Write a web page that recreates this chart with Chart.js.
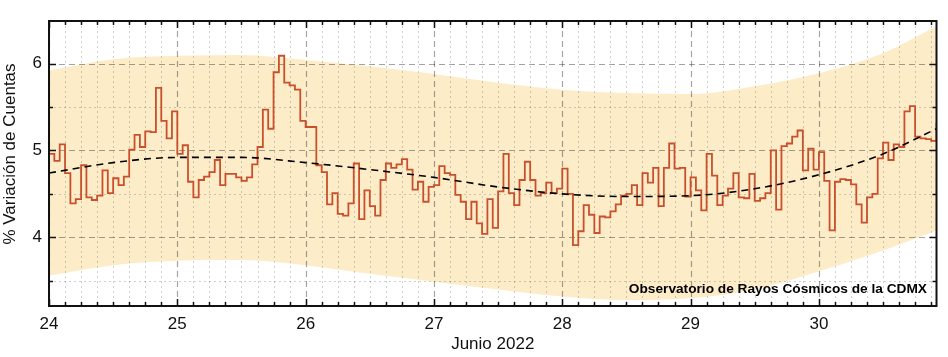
<!DOCTYPE html>
<html>
<head>
<meta charset="utf-8">
<script src="https://cdn.jsdelivr.net/npm/chart.js@4.4.0/dist/chart.umd.min.js"></script>
<style>
html,body{margin:0;padding:0;background:#fff;}
#wrap{width:948px;height:357px;position:relative;}
</style>
</head>
<body>
<div id="wrap"><canvas id="c" width="948" height="357"></canvas></div>
<script>
// ---- data (hourly % variation, starting 24 June 2022 00h) ----
const startDay = 24;
const hourlyValues = [
  4.96,4.88,5.07,4.74,4.39,4.44,4.83,4.46,4.43,4.48,4.77,4.51,4.68,4.60,4.70,5.01,5.18,5.04,5.22,5.21,5.72,5.34,5.14,5.45,
  4.96,5.06,4.64,4.46,4.66,4.70,4.75,4.89,4.60,4.73,4.73,4.69,4.65,4.69,4.84,5.04,5.47,5.25,5.90,6.09,5.78,5.75,5.70,5.34,
  5.27,5.27,4.83,4.75,4.38,4.51,4.27,4.25,4.39,4.85,4.21,4.54,4.36,4.25,4.66,4.85,4.80,4.84,4.90,4.78,4.55,4.64,4.41,4.58,
  4.60,4.82,4.74,4.72,4.49,4.41,4.21,4.41,4.16,4.04,4.44,4.11,4.53,4.96,4.51,4.37,4.66,4.87,4.66,4.48,4.51,4.63,4.51,4.56,
  4.79,4.50,3.91,4.07,4.37,4.26,4.05,4.24,4.23,4.30,4.38,4.48,4.50,4.60,4.37,4.74,4.63,4.80,4.36,4.80,5.08,4.79,4.80,4.47,
  4.69,4.54,4.31,4.96,4.71,4.37,4.48,4.56,4.74,4.46,4.45,4.73,4.42,4.45,4.51,5.00,4.32,5.05,5.08,5.16,5.23,4.77,5.02,4.78,
  4.98,4.65,4.08,4.64,4.67,4.66,4.61,4.38,4.17,4.46,4.50,4.91,5.09,4.89,5.07,5.04,5.45,5.51,5.16,5.14,5.13,5.11,5.32
];
const fitDays   = [24, 24.5, 25, 25.5, 26, 26.5, 27, 27.5, 28, 28.5, 29, 29.5, 30, 30.5, 30.9167];
const fitValues = [4.74, 4.86, 4.92, 4.92, 4.86, 4.78, 4.69, 4.58, 4.50, 4.47, 4.48, 4.56, 4.72, 4.96, 5.25];
const bandUpper = [5.92, 6.05, 6.09, 6.10, 6.04, 5.97, 5.88, 5.78, 5.70, 5.66, 5.65, 5.74, 5.89, 6.12, 6.43];
const bandLower = [3.56, 3.68, 3.73, 3.74, 3.68, 3.58, 3.49, 3.40, 3.32, 3.28, 3.30, 3.40, 3.61, 3.85, 4.08];
const xTickValues = [24, 25, 26, 27, 28, 29, 30];
const yTickValues = [4, 5, 6];
const yMinorValues = [3.5, 4.5, 5.5];
const xMin = 24, xMax = 24 + 166 / 24;
const yMin = 3.21, yMax = 6.49;
const yTitle = '% Variación de Cuentas';
const xTitle = 'Junio 2022';
const note = 'Observatorio de Rayos Cósmicos de la CDMX';

// ---- build library data ----
const stepPoints = hourlyValues.map((v, i) => ({x: startDay + i / 24, y: v}));
const fitPoints = fitDays.map((d, i) => ({x: d, y: fitValues[i]}));
const upPoints = fitDays.map((d, i) => ({x: d, y: bandUpper[i]}));
const loPoints = fitDays.map((d, i) => ({x: d, y: bandLower[i]}));
const minorX = [];
for (let k = 0; startDay + k * 0.125 <= xMax + 1e-9; k++) minorX.push(startDay + k * 0.125);

const FONT = "'Liberation Sans', Arial, Helvetica, sans-serif";
const TEXT = '#111';

const framePlugin = {
  id: 'frame',
  afterUpdate(chart) {
    // make sure every smooth line has its control points before the band is filled
    chart.getSortedVisibleDatasetMetas().forEach(meta => {
      if (meta.dataset && meta.dataset.updateControlPoints) {
        meta.dataset.updateControlPoints(chart.chartArea, meta.indexAxis || 'x');
      }
    });
  },
  beforeDatasetsDraw(chart) {
    const {ctx, chartArea: a, scales: {x, y}} = chart;
    ctx.save();
    ctx.beginPath();
    ctx.rect(a.left, a.top, a.right - a.left, a.bottom - a.top);
    ctx.clip();
    const vline = (px, dash, col, w) => {
      ctx.setLineDash(dash); ctx.strokeStyle = col; ctx.lineWidth = w;
      ctx.beginPath(); ctx.moveTo(px, a.top); ctx.lineTo(px, a.bottom); ctx.stroke();
    };
    const hline = (py, dash, col, w) => {
      ctx.setLineDash(dash); ctx.strokeStyle = col; ctx.lineWidth = w;
      ctx.beginPath(); ctx.moveTo(a.left, py); ctx.lineTo(a.right, py); ctx.stroke();
    };
    const minorCol = 'rgba(0,0,0,0.18)';
    const majorCol = 'rgba(0,0,0,0.36)';
    minorX.forEach(v => {
      if (Math.abs(v - Math.round(v)) < 1e-6) return;
      vline(Math.round(x.getPixelForValue(v)) + 0.5, [2, 3], minorCol, 1);
    });
    yMinorValues.forEach(v => hline(Math.round(y.getPixelForValue(v)) + 0.5, [2, 3], minorCol, 1));
    xTickValues.forEach(v => vline(Math.round(x.getPixelForValue(v)) + 0.5, [6, 4], majorCol, 1.2));
    yTickValues.forEach(v => hline(Math.round(y.getPixelForValue(v)) + 0.5, [6, 4], majorCol, 1.2));
    ctx.restore();
  },
  afterDraw(chart) {
    const {ctx, chartArea: a, scales: {x, y}} = chart;
    ctx.save();
    ctx.setLineDash([]);
    ctx.strokeStyle = '#111';
    // tick marks, inward on all four sides
    ctx.lineWidth = 1.5;
    const seg = (x1, y1, x2, y2) => { ctx.beginPath(); ctx.moveTo(x1, y1); ctx.lineTo(x2, y2); ctx.stroke(); };
    minorX.forEach(v => {
      const px = Math.round(x.getPixelForValue(v)) + 0.5;
      const major = Math.abs(v - Math.round(v)) < 1e-6;
      const L = major ? 7 : 4;
      seg(px, a.bottom, px, a.bottom - L);
      seg(px, a.top, px, a.top + L);
    });
    yTickValues.concat(yMinorValues).forEach(v => {
      const py = Math.round(y.getPixelForValue(v)) + 0.5;
      const L = yTickValues.includes(v) ? 7 : 4;
      seg(a.left, py, a.left + L, py);
      seg(a.right, py, a.right - L, py);
    });
    // frame
    ctx.lineWidth = 2;
    ctx.strokeRect(a.left, a.top, a.right - a.left, a.bottom - a.top);
    // y title
    ctx.fillStyle = TEXT;
    ctx.font = '17px ' + FONT;
    ctx.textAlign = 'center';
    ctx.textBaseline = 'alphabetic';
    ctx.translate(14.5, 154);
    ctx.rotate(-Math.PI / 2);
    ctx.fillText(yTitle, 0, 0);
    ctx.restore();
    // annotation
    ctx.save();
    ctx.fillStyle = '#000';
    ctx.font = 'bold 13.7px ' + FONT;
    ctx.textAlign = 'right';
    ctx.textBaseline = 'alphabetic';
    ctx.fillText(note, 927, 293);
    ctx.restore();
  }
};

new Chart(document.getElementById('c'), {
  type: 'line',
  data: {
    datasets: [
      {
        label: 'banda sup',
        data: upPoints,
        borderColor: 'rgba(0,0,0,0)',
        borderWidth: 1,
        backgroundColor: '#FDECC8',
        fill: '+1',
        pointRadius: 0,
        cubicInterpolationMode: 'monotone',
        order: 4
      },
      {
        label: 'banda inf',
        data: loPoints,
        borderColor: 'rgba(0,0,0,0)',
        borderWidth: 1,
        fill: false,
        pointRadius: 0,
        cubicInterpolationMode: 'monotone',
        order: 3
      },
      {
        label: '% Variación',
        data: stepPoints,
        borderColor: '#C8502C',
        borderWidth: 1.8,
        stepped: true,
        fill: false,
        pointRadius: 0,
        order: 2
      },
      {
        label: 'ajuste',
        data: fitPoints,
        borderColor: '#000',
        borderWidth: 1.6,
        borderDash: [7, 5],
        fill: false,
        pointRadius: 0,
        cubicInterpolationMode: 'monotone',
        order: 1
      }
    ]
  },
  options: {
    responsive: false,
    devicePixelRatio: 1,
    animation: false,
    layout: {padding: {left: 0, right: 11.5, top: 21, bottom: 0}},
    plugins: {
      legend: {display: false},
      tooltip: {enabled: false},
      filler: {drawTime: 'beforeDraw'}
    },
    scales: {
      x: {
        type: 'linear',
        min: xMin,
        max: xMax,
        afterBuildTicks: s => { s.ticks = xTickValues.map(v => ({value: v})); },
        afterFit: s => { s.height = 51; },
        grid: {display: false, drawTicks: false},
        border: {display: false},
        ticks: {color: TEXT, font: {family: FONT, size: 17}, padding: 8, maxRotation: 0, autoSkip: false},
        title: {display: true, text: xTitle, color: TEXT, font: {family: FONT, size: 17}, padding: {top: 0, bottom: 2}}
      },
      y: {
        type: 'linear',
        min: yMin,
        max: yMax,
        afterBuildTicks: s => { s.ticks = yTickValues.map(v => ({value: v})); },
        afterFit: s => { s.width = 49; },
        grid: {display: false, drawTicks: false},
        border: {display: false},
        ticks: {color: TEXT, font: {family: FONT, size: 17}, padding: 7}
      }
    }
  },
  plugins: [framePlugin]
});
</script>
</body>
</html>
